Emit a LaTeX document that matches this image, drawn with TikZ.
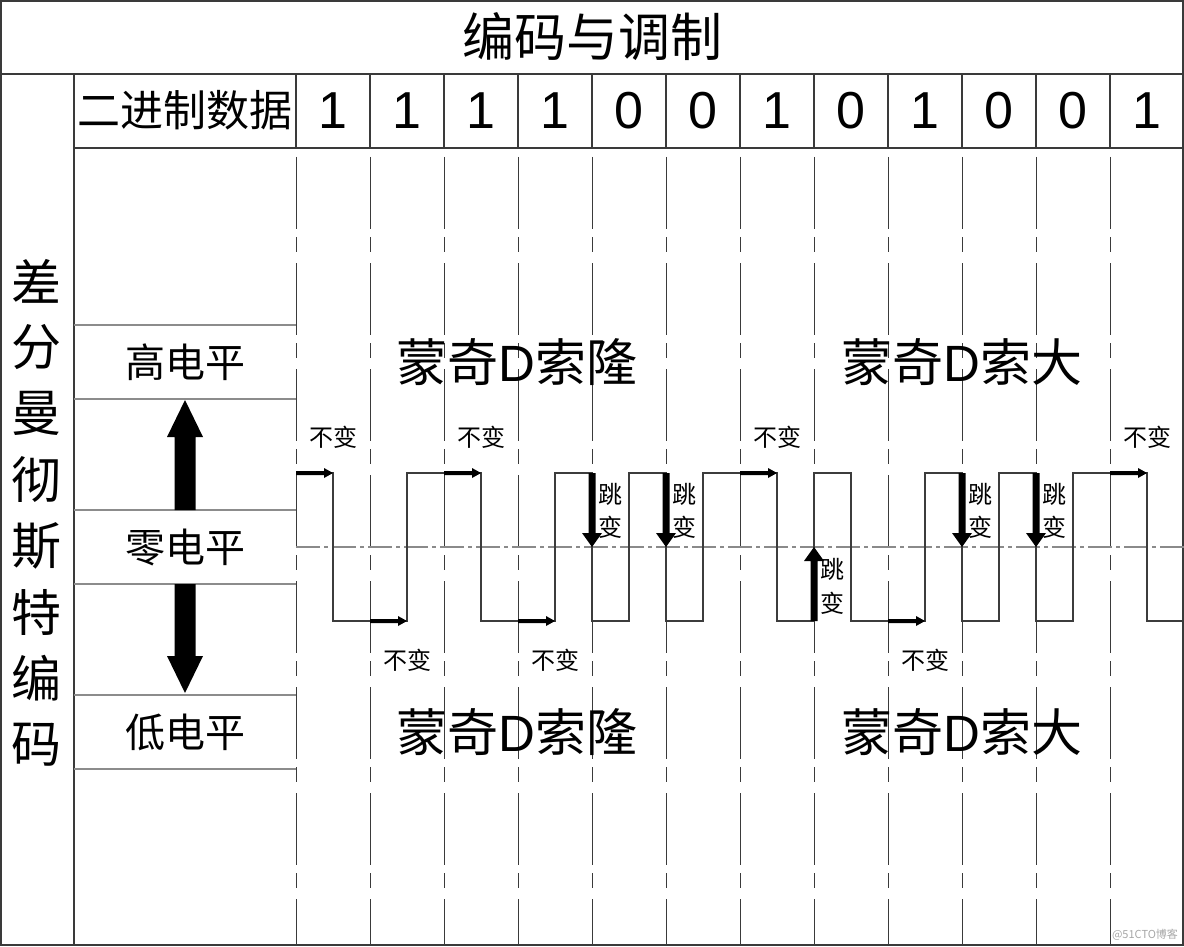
\documentclass[tikz,border=0pt]{standalone}
\usepackage{fontspec}
\setmainfont{Liberation Sans}
\newfontfamily\cjk{Noto Sans CJK SC}
\newcommand{\fsz}[1]{\fontsize{#1}{#1}\selectfont}
\definecolor{frame}{HTML}{3A3A3A}
\definecolor{lightln}{HTML}{8C8C8C}
\definecolor{wave}{HTML}{3C3C3C}
\definecolor{midln}{HTML}{8A8A8A}
\begin{document}
\begin{tikzpicture}[x=1pt,y=-1pt,
  txt/.style={inner sep=0pt, outer sep=0pt, anchor=center},
  tbl/.style={draw=frame, line width=1.2pt},
  lvl/.style={draw=lightln, line width=1.1pt},
  grid/.style={draw=frame, line width=1.0pt, dash pattern=on 72pt off 8pt on 15pt off 11pt},
  midline/.style={draw=midln, line width=1.1pt, dash pattern=on 24pt off 4pt on 4pt off 4pt},
  wavestyle/.style={draw=wave, line width=1.1pt},
  big/.style={txt, font=\fsz{51pt}},
  small/.style={txt, font=\cjk\fsz{24pt}},
  lvltxt/.style={txt, font=\cjk\fsz{40pt}},
  digit/.style={txt, font=\fsz{52pt}}
]
\useasboundingbox (0,0) rectangle (1184,947);

% ---------- frame and table ----------
\draw[tbl] (1,1) rectangle (1183,945);
\draw[tbl] (1,74) -- (1183,74);
\draw[tbl] (74,74) -- (74,945);
\draw[tbl] (74,148) -- (1183,148);
\foreach \x in {296,370,...,1110} {
  \draw[tbl] (\x,74) -- (\x,148);
  \draw[grid] (\x,157) -- (\x,945);
}
\foreach \y in {325,399,510,584,695,769}
  \draw[lvl] (74,\y) -- (296,\y);

% ---------- title and headers ----------
\node[txt, font=\cjk\fsz{52pt}] (title) at (592,37) {编码与调制};
\node[txt, font=\cjk\fsz{43pt}] (bin) at (185,110) {二进制数据};
\foreach \b [count=\i from 0] in {1,1,1,1,0,0,1,0,1,0,0,1}
  \node[digit] (d\i) at ({333+74*\i},111) {\b};

\foreach \c [count=\i from 0] in {差,分,曼,彻,斯,特,编,码}
  \node[txt, font=\cjk\fsz{50pt}] (v\i) at (37,{281+66.2*\i}) {\c};

\node[lvltxt] (high) at (185,362) {高电平};
\node[lvltxt] (zero) at (185,547) {零电平};
\node[lvltxt] (low) at (185,732) {低电平};

% big double arrow (interrupted by the zero-level cell)
\fill[black] (185,400) -- (203,437) -- (195.5,437) -- (195.5,510) -- (174.5,510) -- (174.5,437) -- (167,437) -- cycle;
\fill[black] (185,693) -- (203,656) -- (195.5,656) -- (195.5,584) -- (174.5,584) -- (174.5,656) -- (167,656) -- cycle;

% ---------- big captions ----------
\node[big] (capA1) at (517,362) {{\cjk 蒙奇}D{\cjk 索隆}};
\node[big] (capB1) at (962,362) {{\cjk 蒙奇}D{\cjk 索大}};
\node[big] (capA2) at (517,732) {{\cjk 蒙奇}D{\cjk 索隆}};
\node[big] (capB2) at (962,732) {{\cjk 蒙奇}D{\cjk 索大}};

% ---------- mid line ----------
\draw[midline] (296,547) -- (1184,547);

% ---------- waveform ----------
\draw[wavestyle] (296,473) -- (333,473) -- (333,621) -- (407,621) -- (407,473)
  -- (481,473) -- (481,621) -- (555,621) -- (555,473) -- (592,473) -- (592,621)
  -- (629,621) -- (629,473) -- (666,473) -- (666,621) -- (703,621) -- (703,473)
  -- (777,473) -- (777,621) -- (814,621) -- (814,473) -- (851,473) -- (851,621)
  -- (925,621) -- (925,473) -- (962,473) -- (962,621) -- (999,621) -- (999,473)
  -- (1036,473) -- (1036,621) -- (1073,621) -- (1073,473) -- (1147,473) -- (1147,621)
  -- (1184,621);

% ---------- "no change" arrows ----------
\foreach \x in {296,444,740,1110} {
  \fill[black] (\x,471) -- ({\x+28},471) -- ({\x+28},468) -- ({\x+37},473)
    -- ({\x+28},478) -- ({\x+28},475) -- (\x,475) -- cycle;
  \node[small] at ({\x+37},437) {不变};
}
\foreach \x in {370,518,888} {
  \fill[black] (\x,619) -- ({\x+28},619) -- ({\x+28},616) -- ({\x+37},621)
    -- ({\x+28},626) -- ({\x+28},623) -- (\x,623) -- cycle;
  \node[small] at ({\x+37},660) {不变};
}

% ---------- "jump" arrows ----------
\foreach \x in {592,666,962,1036} {
  \fill[black] ({\x-3.5},473) -- ({\x+3.5},473) -- ({\x+3.5},533) -- ({\x+10},533)
    -- (\x,547) -- ({\x-10},533) -- ({\x-3.5},533) -- cycle;
  \node[small] at ({\x+18},494) {跳};
  \node[small] at ({\x+18},527) {变};
}
\fill[black] (810.5,621) -- (817.5,621) -- (817.5,561) -- (824,561)
  -- (814,547) -- (804,561) -- (810.5,561) -- cycle;
\node[small] (j1) at (832,569) {跳};
\node[small] (j2) at (832,603) {变};

% ---------- watermark ----------
\node[txt, font=\cjk\fsz{11pt}, text=black!35] (wm) at (1145,935) {@51CTO博客};
\end{tikzpicture}
\end{document}
